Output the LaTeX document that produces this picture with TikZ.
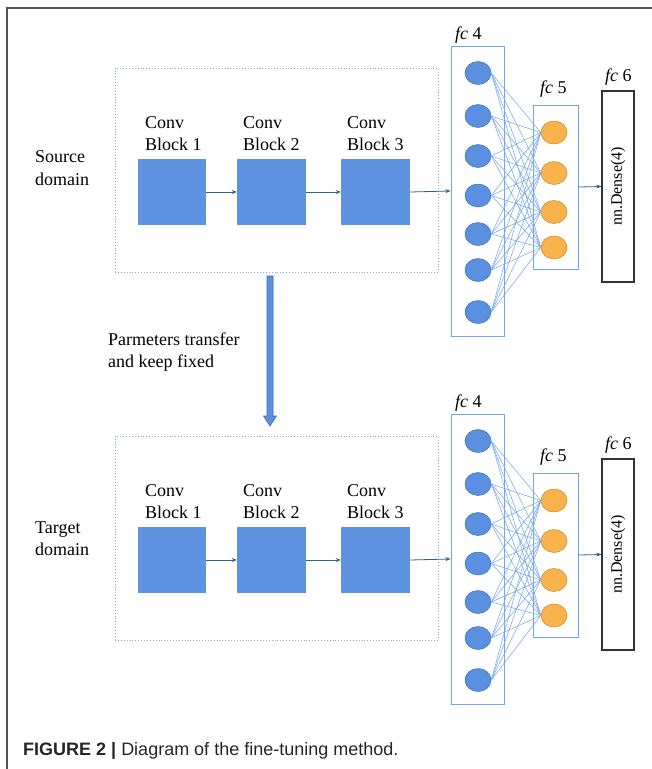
\documentclass[tikz,border=0pt]{standalone}
\usepackage{fontspec}
\setmainfont{Liberation Serif}
\newfontfamily\capfont{Liberation Sans}
\usetikzlibrary{arrows.meta,shapes.geometric,calc}
\definecolor{blockblue}{HTML}{5E93E2}
\definecolor{nodeblue}{HTML}{5B8FE0}
\definecolor{nodeblueedge}{HTML}{3F6DB3}
\definecolor{nodeorange}{HTML}{F9B24C}
\definecolor{nodeorangeedge}{HTML}{C48A2A}
\definecolor{layerline}{HTML}{6EA6F2}
\definecolor{connblue}{HTML}{78A8F0}
\definecolor{dotcol}{HTML}{8AA6CC}
\definecolor{arrowcol}{HTML}{2F5F9F}
\definecolor{bigedge}{HTML}{3A6BB0}
\definecolor{framecol}{HTML}{555555}
\begin{document}
\begin{tikzpicture}[x=1pt,y=-1pt,
  txt/.style={font=\fontsize{18}{22.5}\selectfont, inner sep=0, align=left, anchor=base west},
  fclabel/.style={font=\fontsize{18}{22}\selectfont, inner sep=0, anchor=base west},
  domainbox/.style={draw=dotcol, dotted, line width=0.9pt, minimum width=323pt, minimum height=204pt, inner sep=0},
  convblock/.style={fill=blockblue, minimum height=66pt, inner sep=0},
  flow/.style={draw=arrowcol, line width=0.8pt, -{Stealth[length=5pt,width=4pt]}},
  layerbox/.style={draw=layerline, line width=0.9pt, inner sep=0},
  bluenode/.style={ellipse, fill=nodeblue, draw=nodeblueedge, line width=0.5pt, minimum width=26pt, minimum height=23pt, inner sep=0},
  orangenode/.style={ellipse, fill=nodeorange, draw=nodeorangeedge, line width=0.5pt, minimum width=26pt, minimum height=23pt, inner sep=0},
  conn/.style={draw=connblue, line width=0.55pt},
  outbox/.style={draw=black!80, line width=1.1pt, minimum width=32pt, minimum height=191pt, inner sep=0},
  bigarrow/.style={fill=nodeblue, draw=bigedge, line width=0.6pt}
]
\useasboundingbox (0,0) rectangle (652,769);
\fill[white] (0,0) rectangle (652,769);
% frame
\draw[framecol, line width=1.3pt] (7,769) -- (7,8) -- (652,8);

\foreach \p/\dy in {s/0,t/368}{
  % domain box
  \node[domainbox] (\p dom) at (276.5,170+\dy) {};
  % conv blocks
  \node[convblock, minimum width=68pt] (\p c1) at (172,192+\dy) {};
  \node[convblock, minimum width=69pt] (\p c2) at (271.5,192+\dy) {};
  \node[convblock, minimum width=69pt] (\p c3) at (375.5,192+\dy) {};
  \node[txt] (\p l1) at (145,150.5+\dy) {Conv\\Block 1};
  \node[txt] (\p l2) at (243,150.5+\dy) {Conv\\Block 2};
  \node[txt] (\p l3) at (347,150.5+\dy) {Conv\\Block 3};
  % layers
  \node[layerbox, minimum width=53pt, minimum height=290pt] (\p fc4) at (477.5,191+\dy) {};
  \node[layerbox, minimum width=45pt, minimum height=164pt] (\p fc5) at (555.5,187+\dy) {};
  \node[outbox] (\p fc6) at (618,186.5+\dy) {};
  \node[font=\fontsize{16}{18}\selectfont, rotate=90, inner sep=0] (\p dense) at (\p fc6.center) {nn.Dense(4)};
  \node[fclabel] (\p fl4) at (455,39+\dy) {\textit{fc} 4};
  \node[fclabel] (\p fl5) at (540,93+\dy) {\textit{fc} 5};
  \node[fclabel] (\p fl6) at (605,81+\dy) {\textit{fc} 6};
  % neurons
  \foreach \i/\y in {1/73,2/116,3/156,4/195.5,5/234,6/270,7/312}
    \node[bluenode] (\p b\i) at (478,\y+\dy) {};
  \foreach \j/\y in {1/132.5,2/173,3/212,4/247.5}
    \node[orangenode] (\p o\j) at (554,\y+\dy) {};
  \foreach \i in {1,...,7}
    \foreach \j in {1,...,4}
      \draw[conn] (\p b\i.east) -- (\p o\j.west);
  % flow arrows
  \draw[flow] (\p c1.east) -- (\p c2.west);
  \draw[flow] (\p c2.east) -- (\p c3.west);
  \draw[flow] (\p c3.east) -- (\p fc4.west);
  \draw[flow] (\p fc5.east) -- (\p fc6.west);
}

% domain labels
\node[txt] (srclab) at (35,185) {Source\\domain};
\node[txt] (tgtlab) at (35,555.5) {Target\\domain};
\node[txt] (translab) at (108,367.5) {Parmeters transfer\\and keep fixed};

% big transfer arrow
\coordinate (ta) at (270,276);
\coordinate (tb) at (270,426);
\filldraw[bigarrow] ($(ta)+(-3,0)$) -- ($(ta)+(3,0)$) -- ($(tb)+(3,-10)$) -- ($(tb)+(6.5,-10)$) -- (tb) -- ($(tb)+(-6.5,-10)$) -- ($(tb)+(-3,-10)$) -- cycle;

% caption
\node[font=\capfont\fontsize{18}{22}\selectfont, inner sep=0, anchor=base west, text=black!85] (cap) at (23,755) {\textbf{FIGURE 2 |} Diagram of the fine-tuning method.};
\end{tikzpicture}
\end{document}
